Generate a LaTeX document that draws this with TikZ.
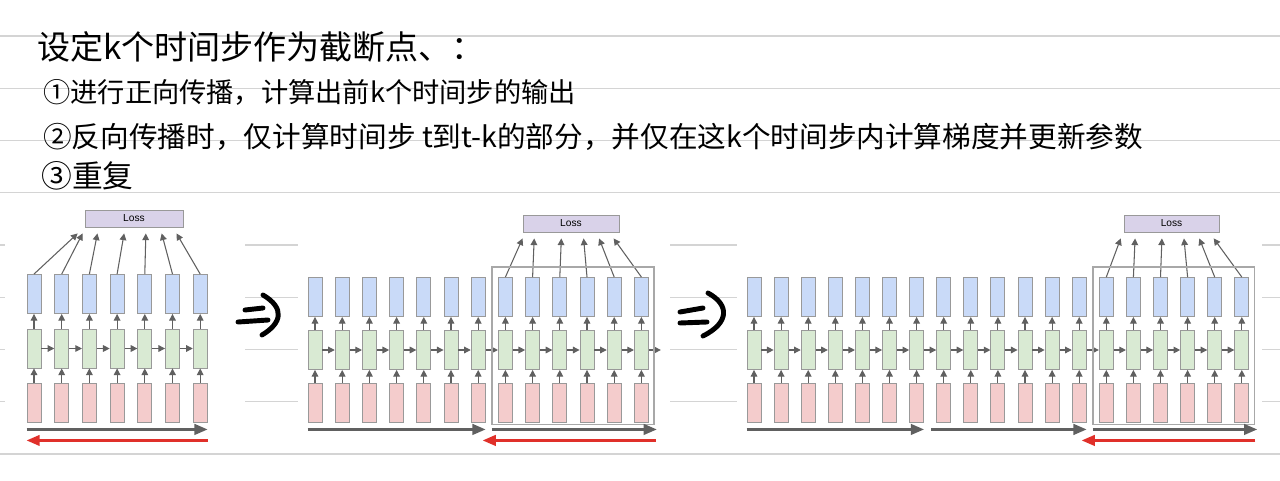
\documentclass[tikz,border=0pt]{standalone}
\usepackage{fontspec}
\setsansfont{Liberation Sans}
\newfontfamily\cjk{Noto Sans CJK SC}
\usetikzlibrary{arrows.meta,calc}
\definecolor{paperline}{HTML}{D4D4D4}
\definecolor{outblue}{HTML}{C9DAF8}
\definecolor{hidgreen}{HTML}{D9EAD3}
\definecolor{inred}{HTML}{F4CCCC}
\definecolor{losspurple}{HTML}{D9D2E9}
\definecolor{boxgray}{HTML}{999999}
\definecolor{arrgray}{HTML}{606060}
\definecolor{backred}{HTML}{E0302A}
\begin{document}
\begin{tikzpicture}[x=0.02cm,y=-0.02cm,
  cell/.style={draw=boxgray,line width=.5pt,minimum width=.28cm,minimum height=.78cm,inner sep=0pt},
  outcell/.style={cell,fill=outblue},
  hidcell/.style={cell,fill=hidgreen},
  incell/.style={cell,fill=inred},
  lossbox/.style={draw=boxgray,line width=.5pt,fill=losspurple,minimum height=.34cm,inner sep=0pt,
    font=\sffamily\fontsize{5.8}{7}\selectfont},
  flow/.style={arrgray,line width=.6pt,-{Triangle[length=3.8pt,width=3.8pt]}},
  timearrow/.style={arrgray,line width=1.4pt,-{Triangle[length=7.5pt,width=6pt]}},
  backarrow/.style={timearrow,backred},
  window/.style={draw=boxgray!85,line width=.8pt},
  thenmark/.style={black,line width=2.8pt,line cap=round},
  note/.style={anchor=west,inner sep=0pt}]
\useasboundingbox[fill=white] (0,0) rectangle (1280,480);
% lined paper
\foreach \k in {0,...,8}
  \draw[paperline,line width=.8pt] (0,{36+52.25*\k}) -- (1280,{36+52.25*\k});
\fill[white] (5,203) rectangle (245,449);
\fill[white] (298,203) rectangle (670,449);
\fill[white] (737,203) rectangle (1262,449);
% handwritten notes
\node[note,font=\cjk\fontsize{18.8}{20}\selectfont] (title) at (37,47) {设定k个时间步作为截断点、：};
\node[note,font=\cjk\fontsize{15.5}{18}\selectfont] (step1) at (43,92) {①进行正向传播，计算出前k个时间步的输出};
\node[note,font=\cjk\fontsize{16.3}{18}\selectfont] (step2) at (43,137) {②反向传播时，仅计算时间步 t到t-k的部分，并仅在这k个时间步内计算梯度并更新参数};
\node[note,font=\cjk\fontsize{17.5}{20}\selectfont] (step3) at (41,176) {③重复};
% unrolled RNNs: id / first x / spacing / length / y of output / y of hidden
\foreach \d/\xa/\dx/\n/\yo/\yh in {1/34/27.7/7/294/348.5, 2/315/27.2/13/297/350, 3/754/27.1/19/297/350} {
  \foreach \i in {1,...,\n} {
    \node[outcell] (o\d-\i) at ({\xa+(\i-1)*\dx},\yo) {};
    \node[hidcell] (h\d-\i) at ({\xa+(\i-1)*\dx},\yh) {};
    \node[incell] (x\d-\i) at ({\xa+(\i-1)*\dx},402.5) {};
    \draw[flow] (x\d-\i) -- (h\d-\i);
    \draw[flow] (h\d-\i) -- (o\d-\i);
  }
  \foreach \i in {2,...,\n} {
    \pgfmathtruncatemacro\j{\i-1}
    \draw[flow] (h\d-\j) -- (h\d-\i);
  }
}
\coordinate (h2-out) at ($(h2-13.east)+(12,0)$);
\draw[flow] (h2-13) -- (h2-out);
% loss boxes
\node[lossbox,minimum width=1.96cm] (loss1) at (134,218.5) {Loss};
\node[lossbox,minimum width=1.92cm] (loss2) at (571,223.5) {Loss};
\node[lossbox,minimum width=1.90cm] (loss3) at (1171.5,223.5) {Loss};
\foreach \i/\f in {1/-0.07,2/-0.02,3/0.13,4/0.40,5/0.62,6/0.78,7/0.93} {
  \coordinate (in1-\i) at ($(loss1.south west)!\f!(loss1.south east)+(0,6)$);
  \draw[flow] (o1-\i.north) -- (in1-\i);
}
\foreach \i/\f in {8/0,9/0.12,10/0.40,11/0.63,12/0.79,13/0.94} {
  \coordinate (in2-\i) at ($(loss2.south west)!\f!(loss2.south east)+(0,6)$);
  \draw[flow] (o2-\i.north) -- (in2-\i);
}
\foreach \i/\f in {14/-0.03,15/0.12,16/0.40,17/0.63,18/0.79,19/0.94} {
  \coordinate (in3-\i) at ($(loss3.south west)!\f!(loss3.south east)+(0,6)$);
  \draw[flow] (o3-\i.north) -- (in3-\i);
}
% truncation windows
\draw[window] ($(o2-8.north west)+(-6,-10)$) coordinate (w2a) rectangle ($(x2-13.south east)+(5,2)$) coordinate (w2b);
\draw[window] ($(o3-14.north west)+(-6,-10)$) coordinate (w3a) rectangle ($(x3-19.south east)+(5,2)$) coordinate (w3b);
% forward and backward passes
\draw[timearrow] ($(x1-1.south west)+(0,7)$) -- ($(x1-7.south east)+(0,7)$);
\draw[backarrow] ($(x1-7.south east)+(0,18)$) -- ($(x1-1.south west)+(0,18)$);
\draw[timearrow] ($(x2-1.south west)+(0,7)$) -- ($(x2-7.south east)+(0,7)$);
\draw[timearrow] ($(w2a|-x2-8.south)+(0,7)$) -- ($(w2b|-x2-8.south)+(3,7)$);
\draw[backarrow] ($(w2b|-x2-8.south)+(2,18)$) -- ($(x2-7.south east)+(-3,18)$);
\draw[timearrow] ($(x3-1.south west)+(0,7)$) -- ($(x3-7.south east)+(0,7)$);
\draw[timearrow] ($(x3-8.south west)+(-5,7)$) -- ($(x3-13.south east)+(0,7)$);
\draw[timearrow] ($(w3a|-x3-14.south)+(0,7)$) -- ($(w3b|-x3-14.south)+(3,7)$);
\draw[backarrow] ($(w3b|-x3-14.south)+(1,18)$) -- ($(x3-13.south east)+(-5,18)$);
% hand drawn implication marks
\draw[thenmark] (245,310) -- (263,308);
\draw[thenmark] (238,322) -- (268,320);
\draw[thenmark] (263,295) .. controls (285,308) and (282,323) .. (262,335);
\draw[thenmark] (680,312) -- (703,308);
\draw[thenmark] (680,323) -- (707,322);
\draw[thenmark] (708,293) .. controls (730,305) and (729,323) .. (703,336);
\end{tikzpicture}
\end{document}
